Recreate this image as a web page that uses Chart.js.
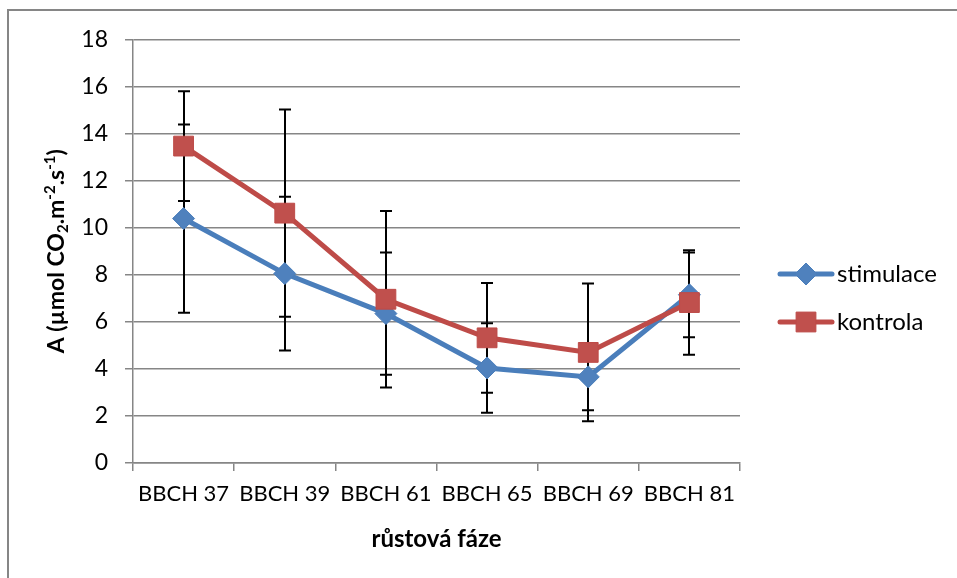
<!DOCTYPE html>
<html>
<head>
<meta charset="utf-8">
<script src="https://cdn.jsdelivr.net/npm/chart.js@4.4.1/dist/chart.umd.min.js"></script>
<style>
  html, body { margin: 0; padding: 0; background: #ffffff; }
  #wrap { position: relative; width: 957px; height: 578px; }
</style>
</head>
<body>
<div id="wrap"><canvas id="c" width="957" height="578"></canvas></div>
<script>
// Growth stages (BBCH) on the x axis
const categories = ['BBCH 37', 'BBCH 39', 'BBCH 61', 'BBCH 65', 'BBCH 69', 'BBCH 81'];

// Net photosynthesis rate A, µmol CO2 m-2 s-1
const stimulaceValues = [10.39, 8.05, 6.35, 4.04, 3.66, 7.15];
const stimulaceErrors = [4.00, 3.27, 2.60, 1.90, 1.42, 1.80];
const kontrolaValues  = [13.47, 10.62, 6.96, 5.32, 4.70, 6.82];
const kontrolaErrors  = [2.33, 4.40, 3.75, 2.33, 2.93, 2.22];

const seriesNames = ['stimulace', 'kontrola'];
const yTicks = [0, 2, 4, 6, 8, 10, 12, 14, 16, 18];
const xTitle = 'růstová fáze';

const FONT = 'Lato';
const GRID = '#868686';
const BLUE_LINE = '#4A7EBB', BLUE_FILL = '#4F81BD';
const RED_LINE = '#BE4B48', RED_FILL = '#C0504D';

// Vertical error bars with caps, drawn under the lines and markers
const errorBars = {
  id: 'errorBars',
  beforeDatasetsDraw(chart) {
    const { ctx, scales: { x, y } } = chart;
    ctx.save();
    ctx.strokeStyle = '#000000';
    ctx.lineWidth = 2;
    chart.data.datasets.forEach(ds => {
      ds.data.forEach((v, i) => {
        const e = ds.errors[i];
        const px = Math.round(x.getPixelForValue(i));
        const top = y.getPixelForValue(v + e);
        const bot = y.getPixelForValue(v - e);
        ctx.beginPath();
        ctx.moveTo(px, top);
        ctx.lineTo(px, bot);
        ctx.moveTo(px - 6, top);
        ctx.lineTo(px + 6, top);
        ctx.moveTo(px - 6, bot);
        ctx.lineTo(px + 6, bot);
        ctx.stroke();
      });
    });
    ctx.restore();
  }
};

// Outer frame, y-axis title with sub/superscripts, and the legend
const decorations = {
  id: 'decorations',
  afterDraw(chart) {
    const { ctx, chartArea } = chart;
    ctx.save();

    // frame
    ctx.strokeStyle = GRID;
    ctx.lineWidth = 2;
    ctx.strokeRect(8, 10, 1000, 1000);

    // y-axis title: A (µmol CO₂.m⁻².s⁻¹)
    const parts = [
      { t: 'A (µmol CO', k: 'n' },
      { t: '2', k: 'sub' },
      { t: '.m', k: 'n' },
      { t: '-2', k: 'sup' },
      { t: '.s', k: 'n' },
      { t: '-1', k: 'sup' },
      { t: ')', k: 'n' }
    ];
    const size = 23, small = 15;
    const fontOf = k => 'bold ' + (k === 'n' ? size : small) + 'px ' + FONT;
    let total = 0;
    parts.forEach(p => { ctx.font = fontOf(p.k); p.w = ctx.measureText(p.t).width; total += p.w; });
    const cy = (chartArea.top + chartArea.bottom) / 2;
    ctx.translate(56, cy);
    ctx.rotate(-Math.PI / 2);
    ctx.fillStyle = '#000000';
    ctx.textBaseline = 'alphabetic';
    ctx.textAlign = 'left';
    let xx = -total / 2;
    const base = 8;
    parts.forEach(p => {
      ctx.font = fontOf(p.k);
      const dy = p.k === 'sub' ? 4 : (p.k === 'sup' ? -9 : 0);
      ctx.fillText(p.t, xx, base + dy);
      xx += p.w;
    });
    ctx.setTransform(1, 0, 0, 1, 0, 0);

    // legend
    const rows = [274, 322];
    chart.data.datasets.forEach((ds, i) => {
      const yy = rows[i];
      ctx.strokeStyle = ds.borderColor;
      ctx.lineWidth = ds.borderWidth;
      ctx.lineCap = 'round';
      ctx.beginPath();
      ctx.moveTo(780, yy);
      ctx.lineTo(832, yy);
      ctx.stroke();
      ctx.lineCap = 'butt';
      ctx.fillStyle = ds.pointBackgroundColor;
      ctx.strokeStyle = ds.pointBorderColor;
      ctx.lineWidth = 1;
      Chart.helpers.drawPoint(ctx, {
        pointStyle: ds.pointStyle,
        radius: ds.pointRadius,
        borderWidth: 1,
        rotation: 0
      }, 806, yy);
      ctx.fillStyle = '#000000';
      ctx.font = '24px ' + FONT;
      ctx.textBaseline = 'middle';
      ctx.textAlign = 'left';
      ctx.fillText(ds.label, 837, yy);
    });
    ctx.restore();
  }
};

const chart = new Chart(document.getElementById('c'), {
  type: 'line',
  data: {
    labels: categories,
    datasets: [
      {
        label: seriesNames[0],
        data: stimulaceValues,
        errors: stimulaceErrors,
        borderColor: BLUE_LINE,
        backgroundColor: BLUE_FILL,
        borderWidth: 5,
        pointStyle: 'rectRot',
        pointRadius: 11,
        pointHoverRadius: 11,
        pointBackgroundColor: BLUE_FILL,
        pointBorderColor: BLUE_LINE,
        pointBorderWidth: 1,
        tension: 0,
        order: 1
      },
      {
        label: seriesNames[1],
        data: kontrolaValues,
        errors: kontrolaErrors,
        borderColor: RED_LINE,
        backgroundColor: RED_FILL,
        borderWidth: 5,
        pointStyle: 'rect',
        pointRadius: 14,
        pointHoverRadius: 14,
        pointBackgroundColor: RED_FILL,
        pointBorderColor: RED_LINE,
        pointBorderWidth: 1,
        tension: 0,
        order: 0
      }
    ]
  },
  options: {
    responsive: false,
    animation: false,
    events: [],
    layout: { padding: { left: 0, top: 39.5, right: 217, bottom: 24 } },
    plugins: {
      legend: { display: false },
      tooltip: { enabled: false },
      title: { display: false }
    },
    scales: {
      x: {
        offset: true,
        grid: {
          offset: true,
          drawOnChartArea: false,
          drawTicks: true,
          tickLength: 8,
          color: GRID,
          lineWidth: 1.5
        },
        border: { display: true, color: GRID, width: 1.5 },
        ticks: {
          color: '#000000',
          font: { family: FONT, size: 22 },
          padding: 10,
          maxRotation: 0,
          autoSkip: false
        },
        title: {
          display: true,
          text: xTitle,
          color: '#000000',
          font: { family: FONT, size: 24, weight: 'bold' },
          padding: { top: 10, bottom: 0 }
        },
        afterFit(scale) { scale.height = 91; }
      },
      y: {
        min: 0,
        max: 18,
        afterBuildTicks(scale) { scale.ticks = yTicks.map(v => ({ value: v })); },
        grid: {
          color: GRID,
          lineWidth: 1.5,
          drawTicks: true,
          tickLength: 8
        },
        border: { display: true, color: GRID, width: 1.5 },
        ticks: {
          color: '#000000',
          font: { family: FONT, size: 23 },
          padding: 17
        },
        afterFit(scale) { scale.width = 133; }
      }
    }
  },
  plugins: [errorBars, decorations]
});
</script>
</body>
</html>
